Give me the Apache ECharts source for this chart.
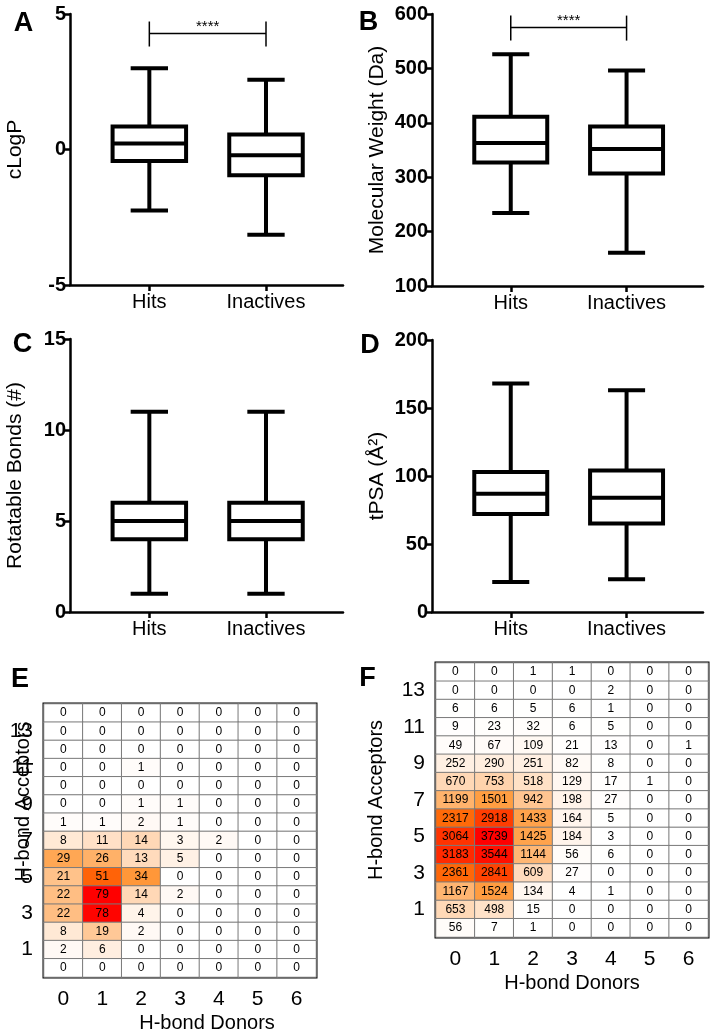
<!DOCTYPE html>
<html>
<head>
<meta charset="utf-8">
<script src="https://cdn.jsdelivr.net/npm/echarts@6.0.0/dist/echarts.min.js"></script>
<style>
  html, body { margin: 0; padding: 0; background: #fff; }
  #chart { width: 713px; height: 1035px; }
</style>
</head>
<body>
<div id="chart"></div>
<script>
const groups = ['Hits', 'Inactives'];

// box plots: [min, Q1, median, Q3, max]
const clogpHits = [-2.25, -0.42, 0.22, 0.85, 3.0];
const clogpInactives = [-3.15, -0.95, -0.21, 0.55, 2.57];
const mwHits = [234, 327, 363, 411, 526];
const mwInactives = [161, 307, 352, 393, 496];
const rotbHits = [1, 4, 5, 6, 11];
const rotbInactives = [1, 4, 5, 6, 11];
const tpsaHits = [22, 72, 87, 103, 168];
const tpsaInactives = [24, 65, 84, 104, 163];

// significance brackets (level of the bar, in axis units)
const sigClogp = [4.28];
const sigMw = [575];

const donors = ['0', '1', '2', '3', '4', '5', '6'];
const acceptors = ['0', '1', '2', '3', '4', '5', '6', '7', '8', '9', '10', '11', '12', '13', '14'];

// counts, rows from 14 acceptors (top) down to 0
const hbHits = [
  [0, 0, 0, 0, 0, 0, 0],
  [0, 0, 0, 0, 0, 0, 0],
  [0, 0, 0, 0, 0, 0, 0],
  [0, 0, 1, 0, 0, 0, 0],
  [0, 0, 0, 0, 0, 0, 0],
  [0, 0, 1, 1, 0, 0, 0],
  [1, 1, 2, 1, 0, 0, 0],
  [8, 11, 14, 3, 2, 0, 0],
  [29, 26, 13, 5, 0, 0, 0],
  [21, 51, 34, 0, 0, 0, 0],
  [22, 79, 14, 2, 0, 0, 0],
  [22, 78, 4, 0, 0, 0, 0],
  [8, 19, 2, 0, 0, 0, 0],
  [2, 6, 0, 0, 0, 0, 0],
  [0, 0, 0, 0, 0, 0, 0]
];
const hbInactives = [
  [0, 0, 1, 1, 0, 0, 0],
  [0, 0, 0, 0, 2, 0, 0],
  [6, 6, 5, 6, 1, 0, 0],
  [9, 23, 32, 6, 5, 0, 0],
  [49, 67, 109, 21, 13, 0, 1],
  [252, 290, 251, 82, 8, 0, 0],
  [670, 753, 518, 129, 17, 1, 0],
  [1199, 1501, 942, 198, 27, 0, 0],
  [2317, 2918, 1433, 164, 5, 0, 0],
  [3064, 3739, 1425, 184, 3, 0, 0],
  [3183, 3544, 1144, 56, 6, 0, 0],
  [2361, 2841, 609, 27, 0, 0, 0],
  [1167, 1524, 134, 4, 1, 0, 0],
  [653, 498, 15, 0, 0, 0, 0],
  [56, 7, 1, 0, 0, 0, 0]
];

const FONT = '"Liberation Sans", Arial, sans-serif';
const heatColors = ['#ffffff', '#ffd3ad', '#ff9e42', '#ff700a', '#ff3800', '#ff0000'];

function renderBox(params, api) {
  const x = api.value(0);
  const p = [1, 2, 3, 4, 5].map(i => api.coord([x, api.value(i)]));
  const unit = api.size([1, 0])[0];
  const hb = unit * 0.315, hc = unit * 0.16;
  const cx = p[0][0];
  const st = { stroke: '#000', lineWidth: 4, fill: null };
  const line = (x1, y1, x2, y2) => ({ type: 'line', shape: { x1, y1, x2, y2 }, style: st });
  return {
    type: 'group',
    children: [
      line(cx, p[4][1], cx, p[3][1]),
      line(cx, p[1][1], cx, p[0][1]),
      line(cx - hc, p[4][1], cx + hc, p[4][1]),
      line(cx - hc, p[0][1], cx + hc, p[0][1]),
      { type: 'rect', shape: { x: cx - hb, y: p[3][1], width: hb * 2, height: p[1][1] - p[3][1] },
        style: { stroke: '#000', lineWidth: 4, fill: '#fff' } },
      line(cx - hb, p[2][1], cx + hb, p[2][1])
    ]
  };
}

function renderBracket(params, api) {
  const a = api.coord([0, api.value(0)]);
  const b = api.coord([1, api.value(0)]);
  const st = { stroke: '#000', lineWidth: 1.5 };
  return {
    type: 'group',
    children: [
      { type: 'line', shape: { x1: a[0], y1: a[1], x2: b[0], y2: b[1] }, style: st },
      { type: 'line', shape: { x1: a[0], y1: a[1] - 12, x2: a[0], y2: a[1] + 13 }, style: st },
      { type: 'line', shape: { x1: b[0], y1: b[1] - 12, x2: b[0], y2: b[1] + 13 }, style: st },
      { type: 'text', x: (a[0] + b[0]) / 2, y: a[1] - 7,
        style: { text: '****', fill: '#000', font: '15px ' + FONT, align: 'center', verticalAlign: 'middle' } }
    ]
  };
}

const boxPanels = [
  { grid: { left: 70, top: 14, width: 273, height: 271 }, name: 'cLogP', min: -5, max: 5, interval: 5, data: [clogpHits, clogpInactives], sig: sigClogp },
  { grid: { left: 432, top: 14, width: 271, height: 272 }, name: 'Molecular Weight (Da)', min: 100, max: 600, interval: 100, data: [mwHits, mwInactives], sig: sigMw },
  { grid: { left: 70, top: 339, width: 273, height: 273 }, name: 'Rotatable Bonds (#)', min: 0, max: 15, interval: 5, data: [rotbHits, rotbInactives] },
  { grid: { left: 432, top: 340, width: 271, height: 272 }, name: 'tPSA (Å²)', min: 0, max: 200, interval: 50, data: [tpsaHits, tpsaInactives] }
];

const grids = [], xAxes = [], yAxes = [], series = [];
const axisLine = { show: true, onZero: false, lineStyle: { color: '#000', width: 2.5 } };
const axisTick = { show: true, length: 6, lineStyle: { color: '#000', width: 2.5 } };

boxPanels.forEach((p, i) => {
  grids.push(Object.assign({ containLabel: false, outerBoundsMode: 'none' }, p.grid));
  xAxes.push({
    type: 'value', gridIndex: i, min: -0.68, max: 1.66,
    splitLine: { show: false }, axisLine,
    axisTick: Object.assign({ customValues: [0, 1] }, axisTick),
    axisLabel: { customValues: [0, 1], formatter: v => groups[v] || '', color: '#000', fontSize: 20, fontFamily: FONT, margin: 7 }
  });
  yAxes.push({
    type: 'value', gridIndex: i, min: p.min, max: p.max, interval: p.interval,
    splitLine: { show: false }, axisLine, axisTick,
    axisLabel: { color: '#000', fontSize: 20, fontWeight: 'bold', fontFamily: FONT, margin: 4 },
    name: p.name, nameLocation: 'middle', nameGap: 44, nameMoveOverlap: false,
    nameTextStyle: { color: '#000', fontSize: 21, fontFamily: FONT }
  });
  series.push({
    type: 'custom', xAxisIndex: i, yAxisIndex: i, renderItem: renderBox,
    encode: { x: 0, y: [1, 2, 3, 4, 5] },
    data: p.data.map((d, k) => [k].concat(d)), silent: true
  });
  if (p.sig) {
    series.push({
      type: 'custom', xAxisIndex: i, yAxisIndex: i, renderItem: renderBracket,
      encode: { y: 0 }, data: [p.sig], silent: true, z: 5
    });
  }
});

const heatPanels = [
  { grid: { left: 44, top: 704, width: 272, height: 273 }, values: hbHits, max: 79,
    xPad: [0, 0, 0, 54], yPad: [0, 0, 0, 78], yGap: 11 },
  { grid: { left: 436, top: 663, width: 272, height: 274 }, values: hbInactives, max: 3739,
    xPad: [0, 0, 0, 0], yPad: [0, 0, 0, 0], yGap: 50 }
];
const visualMaps = [];

heatPanels.forEach(p => {
  const gi = grids.length;
  grids.push(Object.assign({ show: true, borderColor: '#000', borderWidth: 3, containLabel: false, outerBoundsMode: 'none' }, p.grid));
  xAxes.push({
    type: 'category', gridIndex: gi, data: donors,
    axisLine: { show: false }, axisTick: { show: false }, splitLine: { show: false },
    axisLabel: { color: '#000', fontSize: 21, fontFamily: FONT, margin: 12 },
    name: 'H-bond Donors', nameLocation: 'middle', nameGap: 36, nameMoveOverlap: false,
    nameTextStyle: { color: '#000', fontSize: 20, fontFamily: FONT, padding: p.xPad }
  });
  yAxes.push({
    type: 'category', gridIndex: gi, data: acceptors,
    axisLine: { show: false }, axisTick: { show: false }, splitLine: { show: false },
    axisLabel: { color: '#000', fontSize: 21, fontFamily: FONT, margin: 11, interval: (idx) => idx % 2 === 1 },
    name: 'H-bond Acceptors', nameLocation: 'middle', nameGap: p.yGap, nameMoveOverlap: false,
    nameTextStyle: { color: '#000', fontSize: 20, fontFamily: FONT, padding: p.yPad }
  });
  const data = [];
  p.values.forEach((row, r) => row.forEach((v, c) => data.push([c, acceptors.length - 1 - r, v])));
  visualMaps.push({
    type: 'continuous', show: false, min: 0, max: p.max, dimension: 2,
    seriesIndex: series.length, inRange: { color: heatColors }
  });
  series.push({
    type: 'heatmap', xAxisIndex: gi, yAxisIndex: gi, data,
    itemStyle: { borderColor: '#7a7a7a', borderWidth: 1 },
    label: { show: true, color: '#000', fontSize: 12, fontFamily: FONT, formatter: d => d.value[2] },
    silent: true
  });
});

const letters = [
  ['A', 23.5, 24], ['B', 368.5, 23], ['C', 22.5, 345], ['D', 370, 346], ['E', 20, 680], ['F', 367.5, 679]
];

const chart = echarts.init(document.getElementById('chart'), null, { renderer: 'canvas' });
chart.setOption({
  animation: false,
  backgroundColor: '#fff',
  grid: grids,
  xAxis: xAxes,
  yAxis: yAxes,
  visualMap: visualMaps,
  series,
  graphic: letters.map(([t, x, y]) => ({
    type: 'text', x, y,
    style: { text: t, fill: '#000', font: 'bold 27px ' + FONT, align: 'center', verticalAlign: 'middle' }
  }))
});
</script>
</body>
</html>
